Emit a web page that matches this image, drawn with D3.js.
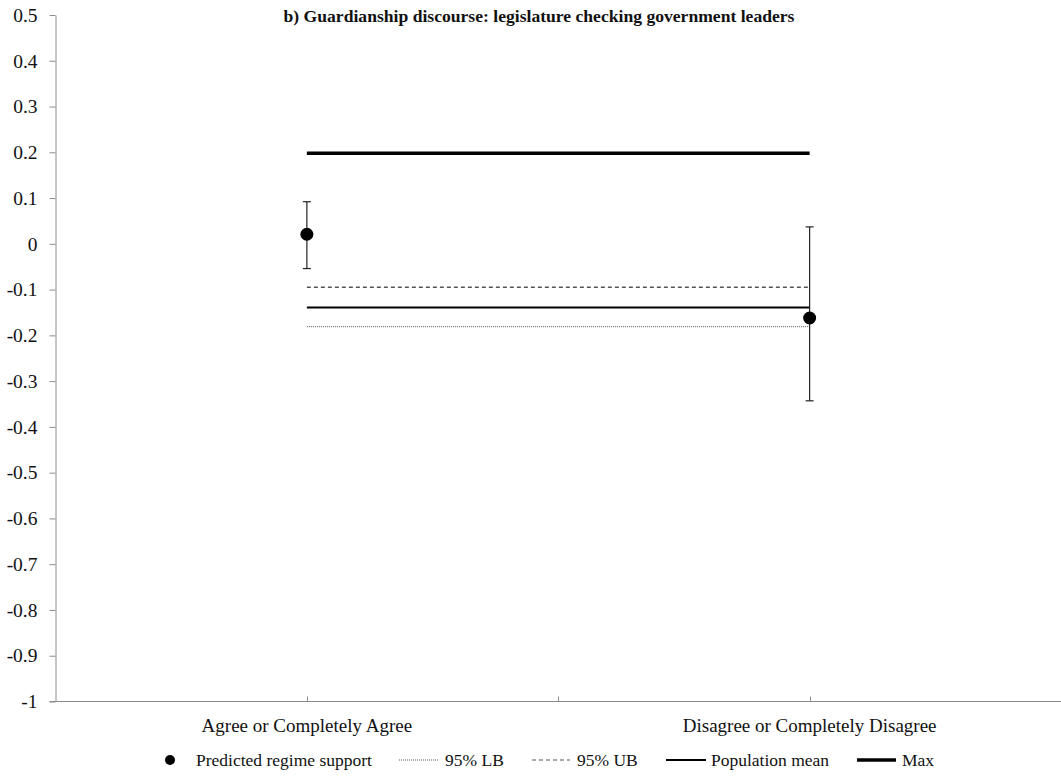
<!DOCTYPE html>
<html>
<head>
<meta charset="utf-8">
<script src="https://cdn.jsdelivr.net/npm/d3@7.9.0/dist/d3.min.js"></script>
<style>
  body { margin: 0; background: #fff; }
  svg { display: block; font-family: "Liberation Serif", "Times New Roman", serif; }
</style>
</head>
<body>
<svg id="chart" width="1061" height="783"></svg>
<script>
const categories = ['Agree or Completely Agree', 'Disagree or Completely Disagree'];
const predicted = [0.021, -0.162];
const ciLow = [-0.054, -0.343];
const ciHigh = [0.092, 0.037];
const lb95 = [-0.181, -0.181];
const ub95 = [-0.095, -0.095];
const popMean = [-0.139, -0.139];
const maxVal = [0.198, 0.198];
const yTicks = d3.range(-10, 6).map(d => d / 10);

const title = 'b) Guardianship discourse: legislature checking government leaders';

const svg = d3.select('#chart');
const plotLeft = 55.5, plotRight = 1061, plotTop = 15, plotBottom = 701.5;

const x = d3.scaleBand().domain(categories).range([plotLeft, plotRight]).padding(0);
const y = d3.scaleLinear().domain([-1, 0.5]).range([plotBottom, plotTop]);
const cx = c => x(c) + x.bandwidth() / 2;

// y axis
const yAxis = svg.append('g')
  .attr('transform', `translate(${plotLeft},0)`)
  .call(d3.axisLeft(y).tickValues(yTicks).tickSize(6).tickSizeOuter(0)
    .tickFormat(d => String(+d.toFixed(1))));
yAxis.select('.domain').attr('stroke', '#8c8c8c');
yAxis.selectAll('.tick line').attr('stroke', '#8c8c8c');
yAxis.selectAll('.tick text')
  .attr('x', -18)
  .attr('font-size', 19.5)
  .attr('font-family', '"Liberation Serif", serif')
  .attr('fill', '#111');

// x axis
svg.append('line')
  .attr('x1', plotLeft - 6).attr('x2', plotRight)
  .attr('y1', plotBottom).attr('y2', plotBottom)
  .attr('stroke', '#8c8c8c');
const xTickPos = [cx(categories[0]), x(categories[1]), cx(categories[1])];
svg.selectAll('.xtick').data(xTickPos).join('line')
  .attr('x1', d => Math.round(d) + 0.5).attr('x2', d => Math.round(d) + 0.5)
  .attr('y1', plotBottom).attr('y2', plotBottom - 5)
  .attr('stroke', '#8c8c8c');
svg.selectAll('.xlabel').data(categories).join('text')
  .attr('x', d => cx(d)).attr('y', 732)
  .attr('text-anchor', 'middle')
  .attr('font-size', 19)
  .attr('fill', '#111')
  .text(d => d);

// title
svg.append('text')
  .attr('x', 539).attr('y', 22)
  .attr('text-anchor', 'middle')
  .attr('font-size', 17.6)
  .attr('font-weight', 'bold')
  .attr('fill', '#111')
  .text(title);

// reference lines
const refLine = d3.line().x((d, i) => cx(categories[i])).y(d => y(d));
svg.append('path').attr('d', refLine(lb95)).attr('fill', 'none')
  .attr('stroke', '#555').attr('stroke-width', 1).attr('stroke-dasharray', '1,1');
svg.append('path').attr('d', refLine(ub95)).attr('fill', 'none')
  .attr('stroke', '#555').attr('stroke-width', 1.5).attr('stroke-dasharray', '4,3');
svg.append('path').attr('d', refLine(popMean)).attr('fill', 'none')
  .attr('stroke', '#000').attr('stroke-width', 2);
svg.append('path').attr('d', refLine(maxVal)).attr('fill', 'none')
  .attr('stroke', '#000').attr('stroke-width', 3.5);

// error bars
categories.forEach((c, i) => {
  const g = svg.append('g').attr('stroke', '#222').attr('stroke-width', 1.2);
  g.append('line').attr('x1', cx(c)).attr('x2', cx(c))
    .attr('y1', y(ciHigh[i])).attr('y2', y(ciLow[i]));
  [ciHigh[i], ciLow[i]].forEach(v => {
    g.append('line').attr('x1', cx(c) - 4).attr('x2', cx(c) + 4)
      .attr('y1', y(v)).attr('y2', y(v));
  });
});

// points
svg.selectAll('.pt').data(predicted).join('circle')
  .attr('cx', (d, i) => cx(categories[i]))
  .attr('cy', d => y(d))
  .attr('r', 6.5)
  .attr('fill', '#000');

// legend
const ly = 760;
const legend = svg.append('g').attr('font-size', 17.5).attr('fill', '#111');
legend.append('circle').attr('cx', 170).attr('cy', ly).attr('r', 5).attr('fill', '#000');
legend.append('text').attr('x', 196).attr('y', ly + 6).text('Predicted regime support');
legend.append('line').attr('x1', 399).attr('x2', 439).attr('y1', ly).attr('y2', ly)
  .attr('stroke', '#555').attr('stroke-dasharray', '1,1');
legend.append('text').attr('x', 445).attr('y', ly + 6).text('95% LB');
legend.append('line').attr('x1', 532).attr('x2', 570).attr('y1', ly).attr('y2', ly)
  .attr('stroke', '#555').attr('stroke-width', 1.2).attr('stroke-dasharray', '4,3');
legend.append('text').attr('x', 577).attr('y', ly + 6).text('95% UB');
legend.append('line').attr('x1', 666).attr('x2', 706).attr('y1', ly).attr('y2', ly)
  .attr('stroke', '#000').attr('stroke-width', 2);
legend.append('text').attr('x', 711).attr('y', ly + 6).text('Population mean');
legend.append('line').attr('x1', 857).attr('x2', 896).attr('y1', ly).attr('y2', ly)
  .attr('stroke', '#000').attr('stroke-width', 3.5);
legend.append('text').attr('x', 902).attr('y', ly + 6).text('Max');
</script>
</body>
</html>
